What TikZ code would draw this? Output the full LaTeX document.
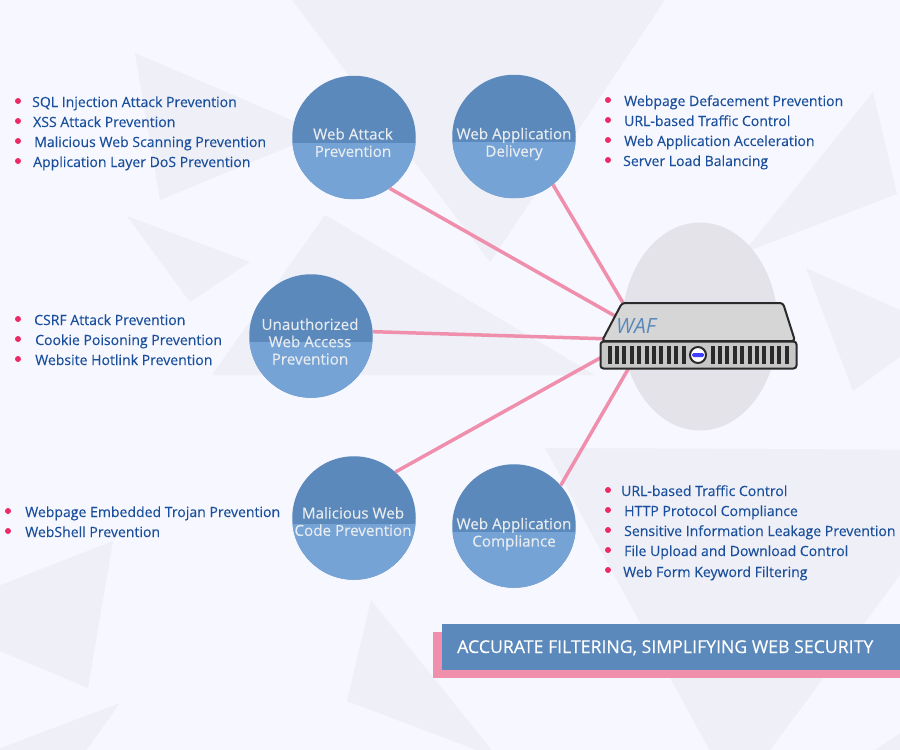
\documentclass[tikz,border=0pt]{standalone}
\usepackage{fontspec}
\usetikzlibrary{shapes.geometric}
\setmainfont{Open Sans}
\newfontfamily\heavyfont[FakeBold=0.25]{Open Sans}
\newfontfamily\softfont[FakeBold=0.1]{Open Sans}
\definecolor{pagebg}{HTML}{F6F7FF}
\definecolor{shard}{HTML}{EEEFF7}
\definecolor{halo}{HTML}{E3E3E9}
\definecolor{bluedark}{HTML}{5B89BB}
\definecolor{bluelight}{HTML}{76A3D6}
\definecolor{linkpink}{HTML}{F08FAC}
\definecolor{dotpink}{HTML}{EE2A66}
\definecolor{itemblue}{HTML}{1A4F9C}
\definecolor{bubbletxt}{HTML}{E8ECEF}
\definecolor{caseedge}{HTML}{2A2A2A}
\begin{document}
\begin{tikzpicture}[x=1pt,y=-1pt,
    bubble/.style={circle,minimum size=123.5pt,inner sep=0pt,fill=bluedark,
      path picture={\fill[bluelight] ([yshift=-5.5pt]path picture bounding box.west) rectangle (path picture bounding box.south east);}},
    bubble text/.style={align=center,text=bubbletxt,font=\softfont\fontsize{15.2}{17.3}\selectfont},
    listitem/.style={anchor=base west,inner sep=0pt,yshift=-5pt,text=itemblue,font=\heavyfont\fontsize{14.05}{16}\selectfont},
    listdot/.style={circle,fill=dotpink,minimum size=6pt,inner sep=0pt},
    link/.style={linkpink,line width=3.5pt},
    slot/.style={fill=caseedge,minimum width=4pt,minimum height=18pt,inner sep=0pt},
    shardfill/.style={fill=shard}]
    \path[use as bounding box,clip] (0,0) rectangle (900,750);
    \fill[pagebg] (0,0) rectangle (900,750);
    % backdrop
    \fill[shardfill] (292,0) -- (665,0) -- (490,262) -- cycle;
    \fill[shardfill] (135,53) -- (160,200) -- (322,133) -- cycle;
    \fill[shardfill] (127,216) -- (250,262) -- (190,302) -- cycle;
    \fill[shardfill] (325,215) -- (595,375) -- (212,375) -- cycle;
    \fill[shardfill] (873,92) -- (897,194) -- (743,253) -- cycle;
    \fill[shardfill] (806,268) -- (940,328) -- (853,391) -- cycle;
    \fill[shardfill] (545,448) -- (993,450) -- (735,797) -- cycle;
    \fill[shardfill] (113,541) -- (88,688) -- (-81,617) -- cycle;
    \fill[shardfill] (120,703) -- (-10,752) -- (85,752) -- cycle;
    \fill[shardfill] (371,600) -- (347,701) -- (498,758) -- cycle;
    \fill[shardfill] (860,760) -- (905,730) -- (905,760) -- cycle;
    \node at (700,326.5) [ellipse,fill=halo,minimum width=156pt,minimum height=208pt,inner sep=0pt] (halo) {};
    % circles
    \node at (354,137.5) [bubble] (attack) {};
    \node at (514,136.5) [bubble] (delivery) {};
    \node at (311,336) [bubble] (access) {};
    \node at (354,518) [bubble] (malicious) {};
    \node at (514,526) [bubble] (compliance) {};
    \node at (353,142.5) [bubble text] (attack text) {Web Attack\\Prevention};
    \node at (514,144) [bubble text] (delivery text) {Web Application\\Delivery};
    \node at (310,341.5) [bubble text] (access text) {Unauthorized\\Web Access\\Prevention};
    \node at (353,521.5) [bubble text] (malicious text) {Malicious Web\\Code Prevention};
    \node at (514,534) [bubble text] (compliance text) {Web Application\\Compliance};
    % links
    \coordinate (hub) at (645,340);
    \coordinate (hub upper) at (645,333);
    \draw [link] (attack.305) -- (hub upper);
    \draw [link] (delivery.309) -- (hub);
    \draw [link] (access.4) -- (hub);
    \draw [link] (malicious.48) -- (hub upper);
    \draw [link] (compliance.41) -- (hub);
    % server
    \draw [fill=black!16,draw=caseedge,line width=2pt,line join=round,rounded corners=3pt] (622,303) -- (783,303) -- (795,341) -- (602,341) -- cycle;
    \node at (698.5,355) [rectangle,rounded corners=3pt,draw=caseedge,line width=2pt,fill=black!22,minimum width=196pt,minimum height=27pt,inner sep=0pt] (front) {};
    \foreach \i in {0,...,10} {
      \node at (609.5+7.4*\i,355) [slot] (slotl\i) {};
      \node at (712.5+7.4*\i,355) [slot] (slotr\i) {};
    }
    \node at (698,355) [circle,draw=caseedge,line width=2pt,fill=white,minimum size=16pt,inner sep=0pt] (knob) {};
    \node at (698,355) [rectangle,rounded corners=1.5pt,fill=blue!75,minimum width=12pt,minimum height=4pt,inner sep=0pt] (led) {};
    \node at (636,326) [text=bluedark,inner sep=0pt,font=\fontsize{21}{23}\selectfont\itshape] (waf) {WAF};
    % lists
    \node at (18,101) [listdot] (d1) {};
    \node at (18,121) [listdot] (d2) {};
    \node at (18,141) [listdot] (d3) {};
    \node at (18,161) [listdot] (d4) {};
    \node at (32,102) [listitem] (sql) {SQL Injection Attack Prevention};
    \node at (33,122) [listitem] (xss) {XSS Attack Prevention};
    \node at (34,142) [listitem] (scan) {Malicious Web Scanning Prevention};
    \node at (33,162) [listitem] (dos) {Application Layer DoS Prevention};
    \node at (608,100) [listdot] (d5) {};
    \node at (608,120) [listdot] (d6) {};
    \node at (608,140) [listdot] (d7) {};
    \node at (608,160) [listdot] (d8) {};
    \node at (624,101) [listitem] (deface) {Webpage Defacement Prevention};
    \node at (624,121) [listitem] (traffic) {URL-based Traffic Control};
    \node at (624,141) [listitem] (accel) {Web Application Acceleration};
    \node at (623,161) [listitem] (balance) {Server Load Balancing};
    \node at (18,319) [listdot] (d9) {};
    \node at (18,339) [listdot] (d10) {};
    \node at (18,359) [listdot] (d11) {};
    \node at (34,320) [listitem] (csrf) {CSRF Attack Prevention};
    \node at (35,340) [listitem] (cookie) {Cookie Poisoning Prevention};
    \node at (35,360) [listitem] (hotlink) {Website Hotlink Prevention};
    \node at (8,511) [listdot] (d12) {};
    \node at (8,531) [listdot] (d13) {};
    \node at (25,512) [listitem] (trojan) {Webpage Embedded Trojan Prevention};
    \node at (25,532) [listitem] (shell) {WebShell Prevention};
    \node at (608,490) [listdot] (d14) {};
    \node at (608,510) [listdot] (d15) {};
    \node at (608,530) [listdot] (d16) {};
    \node at (608,550) [listdot] (d17) {};
    \node at (608,570) [listdot] (d18) {};
    \node at (621,491) [listitem] (traffic2) {URL-based Traffic Control};
    \node at (624,511) [listitem] (http) {HTTP Protocol Compliance};
    \node at (624,531) [listitem] (leak) {Sensitive Information Leakage Prevention};
    \node at (624,551) [listitem] (upload) {File Upload and Download Control};
    \node at (623,572) [listitem] (keyword) {Web Form Keyword Filtering};
    % banner
    \node at (433,655) [anchor=west,fill=linkpink,minimum width=467pt,minimum height=46pt,inner sep=0pt] (banner back) {};
    \node at (442,647) [anchor=west,fill=bluedark,minimum width=458pt,minimum height=46pt,inner sep=0pt] (banner) {};
    \node at (457,653) [anchor=base west,inner sep=0pt,text=white,font=\heavyfont\fontsize{17.7}{20}\selectfont] (slogan) {ACCURATE FILTERING, SIMPLIFYING WEB SECURITY};
\end{tikzpicture}
\end{document}
